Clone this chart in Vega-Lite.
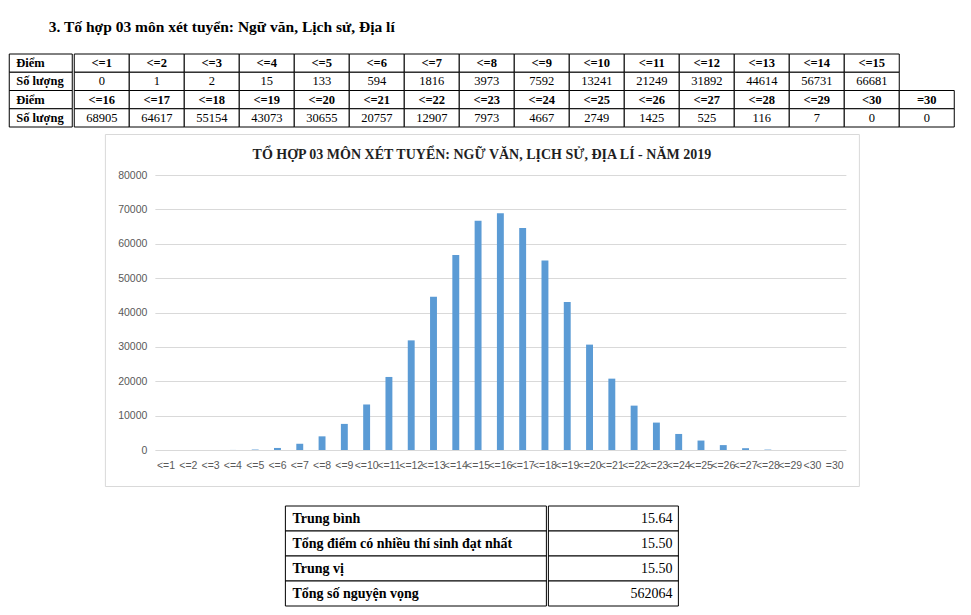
{
  "$schema": "https://vega.github.io/schema/vega-lite/v6.json",
  "background": "white",
  "padding": {"left": 8, "top": 20, "right": 0, "bottom": 0},
  "title": {"text": "3. Tố hợp 03 môn xét tuyển: Ngữ văn, Lịch sử, Địa lí", "anchor": "start", "dx": 40, "font": "Liberation Serif", "fontSize": 15.5, "fontWeight": "bold", "color": "black", "offset": 18},
  "config": {"view": {"stroke": null}},
  "datasets": {
    "phan_bo": [
      {"Điểm": "<=1", "Số lượng": 0},
      {"Điểm": "<=2", "Số lượng": 1},
      {"Điểm": "<=3", "Số lượng": 2},
      {"Điểm": "<=4", "Số lượng": 15},
      {"Điểm": "<=5", "Số lượng": 133},
      {"Điểm": "<=6", "Số lượng": 594},
      {"Điểm": "<=7", "Số lượng": 1816},
      {"Điểm": "<=8", "Số lượng": 3973},
      {"Điểm": "<=9", "Số lượng": 7592},
      {"Điểm": "<=10", "Số lượng": 13241},
      {"Điểm": "<=11", "Số lượng": 21249},
      {"Điểm": "<=12", "Số lượng": 31892},
      {"Điểm": "<=13", "Số lượng": 44614},
      {"Điểm": "<=14", "Số lượng": 56731},
      {"Điểm": "<=15", "Số lượng": 66681},
      {"Điểm": "<=16", "Số lượng": 68905},
      {"Điểm": "<=17", "Số lượng": 64617},
      {"Điểm": "<=18", "Số lượng": 55154},
      {"Điểm": "<=19", "Số lượng": 43073},
      {"Điểm": "<=20", "Số lượng": 30655},
      {"Điểm": "<=21", "Số lượng": 20757},
      {"Điểm": "<=22", "Số lượng": 12907},
      {"Điểm": "<=23", "Số lượng": 7973},
      {"Điểm": "<=24", "Số lượng": 4667},
      {"Điểm": "<=25", "Số lượng": 2749},
      {"Điểm": "<=26", "Số lượng": 1425},
      {"Điểm": "<=27", "Số lượng": 525},
      {"Điểm": "<=28", "Số lượng": 116},
      {"Điểm": "<=29", "Số lượng": 7},
      {"Điểm": "<30", "Số lượng": 0},
      {"Điểm": "=30", "Số lượng": 0}
    ],
    "thong_ke": [
      {"chi_so": "Trung bình", "gia_tri": "15.64"},
      {"chi_so": "Tổng điểm có nhiều thí sinh đạt nhất", "gia_tri": "15.50"},
      {"chi_so": "Trung vị", "gia_tri": "15.50"},
      {"chi_so": "Tổng số nguyện vọng", "gia_tri": "562064"}
    ]
  },
  "center": true,
  "spacing": 5,
  "vconcat": [
    {
      "spacing": 0,
      "hconcat": [
        {
          "width": 63,
          "height": 73,
          "data": {"name": "phan_bo"},
          "transform": [
            {"window": [{"op": "row_number", "as": "stt"}]},
            {"calculate": "datum.stt <= 15 ? 1 : 2", "as": "bang"},
            {"fold": ["Điểm", "Số lượng"], "as": ["hang", "gia_tri"]},
            {"aggregate": [{"op": "count", "as": "n"}], "groupby": ["bang", "hang"]},
            {"calculate": "datum.bang + '-' + datum.hang", "as": "hang_id"}
          ],
          "encoding": {
            "y": {"field": "hang_id", "type": "nominal", "axis": null, "sort": ["1-Điểm", "1-Số lượng", "2-Điểm", "2-Số lượng"], "scale": {"paddingInner": 0, "paddingOuter": 0}}
          },
          "layer": [
            {"mark": {"type": "rect", "fill": "white", "stroke": "black", "strokeWidth": 1}, "encoding": {"x": {"value": 0}, "x2": {"value": "width"}}},
            {"mark": {"type": "text", "align": "left", "dx": -24.5, "font": "Liberation Serif", "fontSize": 12.5, "fontWeight": "bold", "fill": "black"}, "encoding": {"text": {"field": "hang"}}}
          ]
        },
        {
          "width": 880,
          "height": 73,
          "data": {"name": "phan_bo"},
          "transform": [
            {"window": [{"op": "row_number", "as": "stt"}]},
            {"calculate": "datum.stt <= 15 ? 1 : 2", "as": "bang"},
            {"calculate": "datum.stt <= 15 ? datum.stt : datum.stt - 15", "as": "cot"},
            {"fold": ["Điểm", "Số lượng"], "as": ["hang", "gia_tri"]},
            {"calculate": "datum.bang + '-' + datum.hang", "as": "hang_id"}
          ],
          "encoding": {
            "x": {"field": "cot", "type": "ordinal", "axis": null, "scale": {"domain": [1,2,3,4,5,6,7,8,9,10,11,12,13,14,15,16], "paddingInner": 0, "paddingOuter": 0}},
            "y": {"field": "hang_id", "type": "nominal", "axis": null, "sort": ["1-Điểm", "1-Số lượng", "2-Điểm", "2-Số lượng"], "scale": {"paddingInner": 0, "paddingOuter": 0}}
          },
          "layer": [
            {"mark": {"type": "rect", "fill": "white", "stroke": "black", "strokeWidth": 1}},
            {"transform": [{"filter": "datum.hang === 'Điểm'"}], "mark": {"type": "text", "align": "center", "font": "Liberation Serif", "fontSize": 12.5, "fontWeight": "bold", "fill": "black"}, "encoding": {"text": {"field": "gia_tri"}}},
            {"transform": [{"filter": "datum.hang !== 'Điểm'"}], "mark": {"type": "text", "align": "center", "font": "Liberation Serif", "fontSize": 12.5, "fill": "black"}, "encoding": {"text": {"field": "gia_tri"}}}
          ]
        }
      ]
    },
    {
      "spacing": 18,
      "center": true,
      "vconcat": [
        {
          "width": 754,
          "height": 352,
          "view": {"stroke": "#d9d9d9", "fill": "white"},
          "title": {"text": "TỔ HỢP 03 MÔN XÉT TUYỂN: NGỮ VĂN, LỊCH SỬ, ĐỊA LÍ - NĂM 2019", "font": "Liberation Serif", "fontSize": 14, "fontWeight": "bold", "color": "#1f1f1f", "anchor": "middle", "frame": "group", "offset": -28},
          "data": {"name": "phan_bo"},
          "mark": {"type": "bar", "color": "#5b9bd5"},
          "encoding": {
            "x": {"field": "Điểm", "type": "nominal", "sort": null, "scale": {"range": [50, 741], "paddingInner": 0.69, "paddingOuter": 0.345}, "axis": {"title": null, "labelAngle": 0, "domain": false, "ticks": false, "offset": -36, "labelPadding": 10, "labelFont": "Liberation Sans", "labelFontSize": 10.5, "labelColor": "#595959", "labelOverlap": false, "labelBound": false}},
            "y": {"field": "Số lượng", "type": "quantitative", "scale": {"domain": [0, 80000], "range": [316, 41], "nice": false}, "axis": {"title": null, "values": [0, 10000, 20000, 30000, 40000, 50000, 60000, 70000, 80000], "format": "d", "domain": false, "ticks": false, "offset": -50, "labelPadding": 8, "gridColor": "#d9d9d9", "labelFont": "Liberation Sans", "labelFontSize": 10.5, "labelColor": "#595959"}}
          }
        },
        {
          "spacing": 0,
          "hconcat": [
            {
              "width": 261,
              "height": 100,
              "data": {"name": "thong_ke"},
              "encoding": {"y": {"field": "chi_so", "type": "nominal", "sort": null, "axis": null, "scale": {"paddingInner": 0, "paddingOuter": 0}}},
              "layer": [
                {"mark": {"type": "rect", "fill": "white", "stroke": "black", "strokeWidth": 1}, "encoding": {"x": {"value": 0}, "x2": {"value": "width"}}},
                {"mark": {"type": "text", "align": "left", "dx": -123.5, "font": "Liberation Serif", "fontSize": 14, "fontWeight": "bold", "fill": "black"}, "encoding": {"text": {"field": "chi_so"}}}
              ]
            },
            {
              "width": 130,
              "height": 100,
              "data": {"name": "thong_ke"},
              "encoding": {"y": {"field": "chi_so", "type": "nominal", "sort": null, "axis": null, "scale": {"paddingInner": 0, "paddingOuter": 0}}},
              "layer": [
                {"mark": {"type": "rect", "fill": "white", "stroke": "black", "strokeWidth": 1}, "encoding": {"x": {"value": 0}, "x2": {"value": "width"}}},
                {"mark": {"type": "text", "align": "right", "dx": 59, "font": "Liberation Serif", "fontSize": 14, "fill": "black"}, "encoding": {"text": {"field": "gia_tri"}}}
              ]
            }
          ]
        }
      ]
    }
  ]
}
